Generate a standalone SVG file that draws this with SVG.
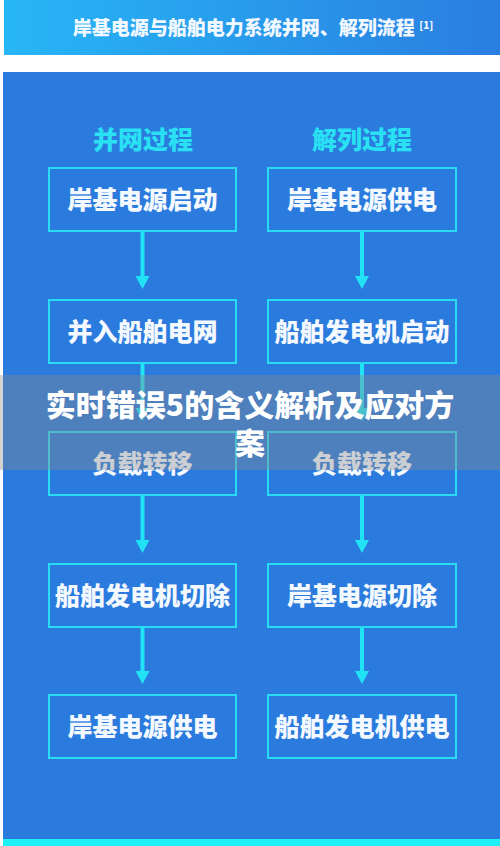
<svg xmlns="http://www.w3.org/2000/svg" width="500" height="846" viewBox="0 0 500 846">
  <defs>
    <linearGradient id="hdr" x1="0" y1="0" x2="1" y2="0">
      <stop offset="0" stop-color="#27b6f6"/>
      <stop offset="1" stop-color="#2a7ee0"/>
    </linearGradient>
    <marker id="ah" viewBox="0 0 13 14" refX="0" refY="7" markerWidth="13" markerHeight="14" orient="auto" markerUnits="userSpaceOnUse">
      <path d="M0,0 L13,7 L0,14 z" fill="#22e3f6"/>
    </marker>
    <style>
      .box{fill:none;stroke:#2adcf3;stroke-width:2}
      .bt{font-family:"Noto Sans CJK SC","Noto Sans",sans-serif;font-weight:900;font-size:25px;fill:#f4f9ff;text-anchor:middle}
      .ct{font-family:"Noto Sans CJK SC","Noto Sans",sans-serif;font-weight:900;font-size:25px;fill:#2ae0f3;text-anchor:middle}
      .conn{stroke:#22e3f6;stroke-width:4;fill:none}
      .ov{font-family:"Noto Sans CJK SC","Noto Sans",sans-serif;font-weight:900;font-size:30px;fill:#ffffff;text-anchor:middle}
    </style>
  </defs>
  <rect x="0" y="0" width="500" height="846" fill="#ffffff"/>
  <rect x="4" y="0" width="496" height="55" fill="url(#hdr)"/>
  <text x="253" y="35" font-family="'Noto Sans CJK SC','Noto Sans',sans-serif" font-weight="900" font-size="19" fill="#f2f8ff" text-anchor="middle">岸基电源与船舶电力系统并网、解列流程 <tspan font-size="10" dy="-6">[1]</tspan></text>
  <rect x="3" y="72" width="497" height="767" fill="#2a7bdd"/>
  <rect x="3" y="839" width="497" height="7" fill="#1ff0f6"/>

  <text class="ct" x="143" y="149">并网过程</text>
  <text class="ct" x="362" y="149">解列过程</text>

  <g id="connectors">
    <line class="conn" x1="142.5" y1="231" x2="142.5" y2="276" marker-end="url(#ah)"/>
    <line class="conn" x1="142.5" y1="363" x2="142.5" y2="408" marker-end="url(#ah)"/>
    <line class="conn" x1="142.5" y1="495" x2="142.5" y2="540" marker-end="url(#ah)"/>
    <line class="conn" x1="142.5" y1="627" x2="142.5" y2="671" marker-end="url(#ah)"/>
    <line class="conn" x1="362" y1="231" x2="362" y2="276" marker-end="url(#ah)"/>
    <line class="conn" x1="362" y1="363" x2="362" y2="408" marker-end="url(#ah)"/>
    <line class="conn" x1="362" y1="495" x2="362" y2="540" marker-end="url(#ah)"/>
    <line class="conn" x1="362" y1="627" x2="362" y2="671" marker-end="url(#ah)"/>
  </g>

  <g id="L1"><rect class="box" x="49" y="168" width="187" height="63"/><text class="bt" x="142.5" y="209">岸基电源启动</text></g>
  <g id="L2"><rect class="box" x="49" y="300" width="187" height="63"/><text class="bt" x="142.5" y="341">并入船舶电网</text></g>
  <g id="L3"><rect class="box" x="49" y="432" width="187" height="63"/><text class="bt" x="142.5" y="473">负载转移</text></g>
  <g id="L4"><rect class="box" x="49" y="564" width="187" height="63"/><text class="bt" x="142.5" y="605">船舶发电机切除</text></g>
  <g id="L5"><rect class="box" x="49" y="695" width="187" height="63"/><text class="bt" x="142.5" y="736">岸基电源供电</text></g>

  <g id="R1"><rect class="box" x="268" y="168" width="188" height="63"/><text class="bt" x="362" y="209">岸基电源供电</text></g>
  <g id="R2"><rect class="box" x="268" y="300" width="188" height="63"/><text class="bt" x="362" y="341">船舶发电机启动</text></g>
  <g id="R3"><rect class="box" x="268" y="432" width="188" height="63"/><text class="bt" x="362" y="473">负载转移</text></g>
  <g id="R4"><rect class="box" x="268" y="564" width="188" height="63"/><text class="bt" x="362" y="605">岸基电源切除</text></g>
  <g id="R5"><rect class="box" x="268" y="695" width="188" height="63"/><text class="bt" x="362" y="736">船舶发电机供电</text></g>

  <g id="overlay">
    <rect x="0" y="375" width="500" height="95" fill="#8a8a8a" fill-opacity="0.38"/>
    <text class="ov" x="250" y="416">实时错误5的含义解析及应对方</text>
    <text class="ov" x="250" y="454">案</text>
  </g>
</svg>
